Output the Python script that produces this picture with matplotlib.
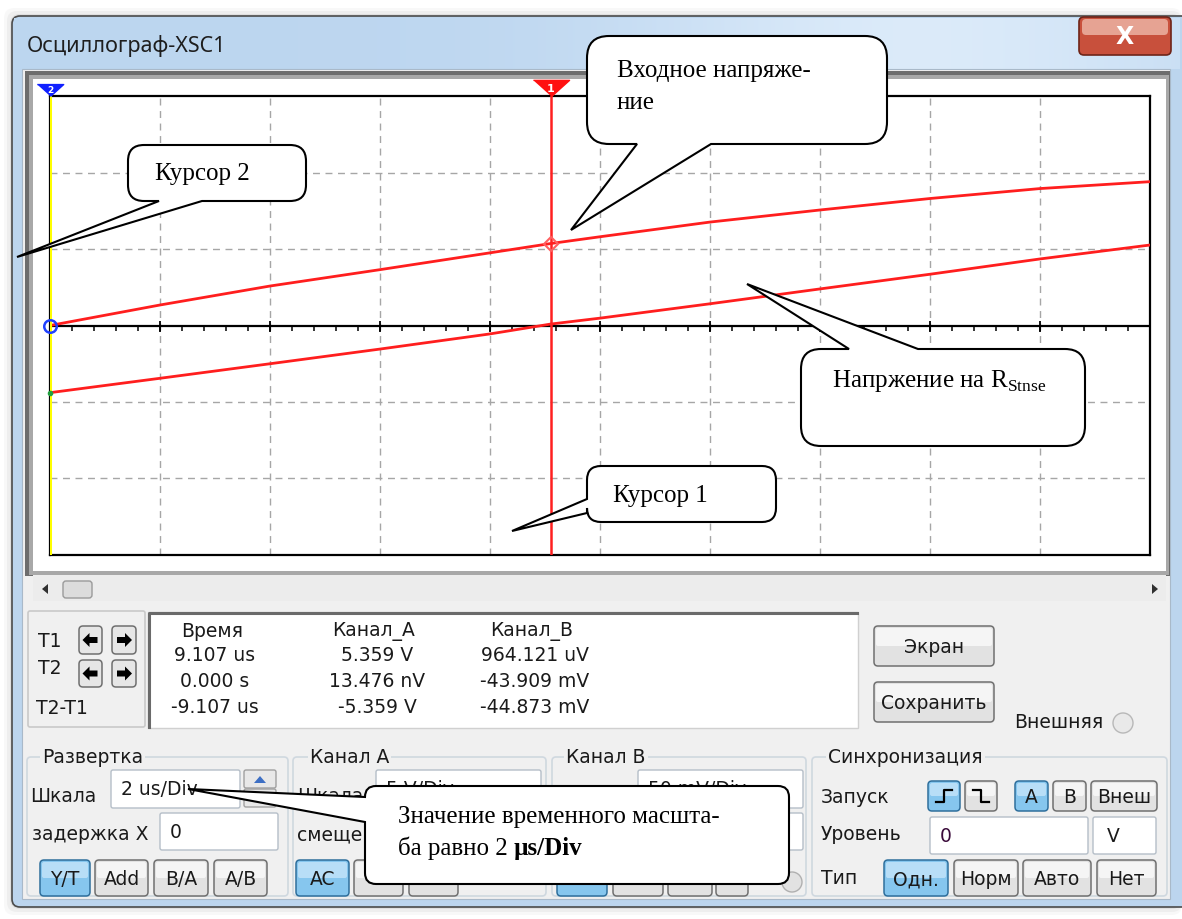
"""Окно осциллографа XSC1 с курсорами и выносками-комментариями."""

import matplotlib
matplotlib.use("Agg")
import matplotlib.pyplot as plt
import matplotlib.transforms as mtransforms
import numpy as np
from matplotlib.patches import Circle, FancyBboxPatch, PathPatch, Polygon, Rectangle
from matplotlib.path import Path

plt.rcParams["font.family"] = ["DejaVu Sans"]
plt.rcParams["mathtext.fontset"] = "custom"
plt.rcParams["mathtext.rm"] = "Liberation Serif"

# --- данные осциллограммы ---
TIME_US = [0.0, 2.0, 4.0, 6.0, 8.0, 9.107, 10.0, 12.0, 14.0, 16.0, 18.0, 20.0]
CH_A_V = [0.0, 1.34, 2.58, 3.65, 4.75, 5.359, 5.80, 6.76, 7.55, 8.30, 8.95, 9.40]
CH_B_MV = [-43.9, -34.5, -25.0, -15.4, -5.5, 0.96, 4.8, 14.2, 23.9, 33.5, 43.5, 52.6]

TIME_DIV_US = 2.0
CH_A_V_DIV = 5.0
CH_B_MV_DIV = 50.0
N_DIV_X = 10
N_DIV_Y = 3

CURSOR_T1_US = 9.107
CURSOR_T2_US = 0.0

READ_HEADERS = ["Время", "Канал_А", "Канал_В"]
READ_ROWS = [
    ["9.107 us", "5.359 V", "964.121 uV"],
    ["0.000 s", "13.476 nV", "-43.909 mV"],
    ["-9.107 us", "-5.359 V", "-44.873 mV"],
]

W, H = 1182, 920
UI = 13.5
SERIF = "Liberation Serif"
PANEL = "#f0f0f0"

fig = plt.figure(figsize=(W / 100, H / 100), dpi=100)
fig.patch.set_facecolor("white")


def pixel_axes(zorder):
    a = fig.add_axes([0, 0, 1, 1], zorder=zorder)
    a.set_xlim(0, W)
    a.set_ylim(H, 0)
    a.axis("off")
    a.patch.set_alpha(0)
    return a


bg = pixel_axes(0)
top = pixel_axes(5)


def rbox(a, x0, y0, x1, y1, r=3, fc="none", ec="none", lw=1.0, z=1):
    a.add_patch(FancyBboxPatch((x0, y0), x1 - x0, y1 - y0,
                               boxstyle=f"round,pad=0,rounding_size={r}",
                               fc=fc, ec=ec, lw=lw, zorder=z))


def label(x, y, s, ha="left", size=UI, color="#1a1a1a", **kw):
    bg.text(x, y, s, ha=ha, va="center", fontsize=size, color=color, zorder=6, **kw)


def button(x0, x1, y0, y1, s, active=False):
    fc = "#86c6ee" if active else "#e2e2e2"
    ec = "#2f6f9c" if active else "#707070"
    hi = "#b8def7" if active else "#f5f5f5"
    rbox(bg, x0, y0, x1, y1, r=4, fc=fc, ec=ec, lw=1.1, z=3)
    rbox(bg, x0 + 2, y0 + 2, x1 - 2, (y0 + y1) / 2, r=2, fc=hi, z=4)
    if s:
        label((x0 + x1) / 2, (y0 + y1) / 2 + 1, s, ha="center")


def textbox(x0, x1, y0, y1, s="", color="#1a1a1a"):
    rbox(bg, x0, y0, x1, y1, r=2, fc="white", ec="#b5bec8", lw=1.0, z=3)
    if s:
        label(x0 + 10, (y0 + y1) / 2, s, color=color)


def group(x0, x1, y0, y1, title, tx):
    rbox(bg, x0, y0, x1, y1, r=4, ec="#cfd8df", lw=1.2, z=2)
    bg.text(tx, y0, title, ha="left", va="center", fontsize=UI, color="#1a1a1a",
            zorder=6, bbox=dict(fc=PANEL, ec="none", pad=1.5))


def arrow_button(x0, x1, y0, y1, direction):
    rbox(bg, x0, y0, x1, y1, r=4, fc="#e6e6e6", ec="#6f6f6f", lw=1.1, z=3)
    cx, cy = (x0 + x1) / 2, (y0 + y1) / 2
    d = -1 if direction == "left" else 1
    pts = [(cx + 8 * d, cy), (cx + 1 * d, cy - 7), (cx + 1 * d, cy - 3), (cx - 7 * d, cy - 3),
           (cx - 7 * d, cy + 3), (cx + 1 * d, cy + 3), (cx + 1 * d, cy + 7)]
    bg.add_patch(Polygon(pts, closed=True, fc="black", ec="none", zorder=4))


# --- окно ---
for i, a in enumerate([0.05, 0.08, 0.12]):
    rbox(bg, 4 + 3 * i, 9 + 3 * i, 1182, 916 - 3 * i, r=10, fc="#808080", ec="none", z=0)
    bg.patches[-1].set_alpha(a)
rbox(bg, 12, 17, 1190, 908, r=8, fc="#bcd5ee", ec="#4b4b4b", lw=1.2, z=1)
grad = np.linspace(0, 1, 256)
title_rgb = np.zeros((1, 256, 3))
title_rgb[0, :, 0] = 0.74 + 0.12 * np.exp(-((grad - 0.78) / 0.25) ** 2)
title_rgb[0, :, 1] = 0.84 + 0.08 * np.exp(-((grad - 0.78) / 0.25) ** 2)
title_rgb[0, :, 2] = 0.94 + 0.04 * np.exp(-((grad - 0.78) / 0.25) ** 2)
bg.imshow(title_rgb, extent=(14, 1180, 70, 19), aspect="auto", zorder=1.5, interpolation="bilinear")
bg.set_xlim(0, W)
bg.set_ylim(H, 0)
bg.text(27, 46, "Осциллограф-XSC1", fontsize=15.5, va="center", ha="left",
        color="#1e1e1e", family=["Noto Sans", "DejaVu Sans"], zorder=6)

# кнопка закрытия
rbox(bg, 1079, 18, 1171, 56, r=5, fc="#c8503c", ec="#6e2418", lw=1.2, z=3)
rbox(bg, 1082, 20, 1168, 36, r=4, fc="#e6a393", z=4)
bg.text(1125, 37, "X", fontsize=17, fontweight="bold", ha="center", va="center",
        color="white", zorder=6)

# панель
bg.add_patch(Rectangle((22, 70), 1148, 830, fc=PANEL, ec="#a9b9c9", lw=0.8, zorder=2))

# экран
bg.add_patch(Rectangle((25, 72), 1145, 505, fc="#6d6d6d", ec="none", zorder=2.1))
bg.add_patch(Rectangle((29, 76), 1140, 500, fc="#a8a8a8", ec="none", zorder=2.2))
bg.add_patch(Rectangle((33, 80), 1133, 492, fc="white", ec="none", zorder=2.3))

# полоса прокрутки
bg.add_patch(Rectangle((33, 576), 1133, 26, fc="#ececec", ec="none", zorder=2.3))
bg.add_patch(Polygon([(42, 590), (48, 585), (48, 595)], fc="#303030", zorder=4))
rbox(bg, 63, 582, 92, 599, r=3, fc="#dcdcdc", ec="#9a9a9a", lw=1, z=4)
bg.add_patch(Polygon([(1158, 590), (1152, 585), (1152, 595)], fc="#303030", zorder=4))

# --- осциллограмма ---
ax = fig.add_axes([50 / W, 1 - 556 / H, 1100 / W, 459 / H], zorder=2)
t = np.asarray(TIME_US)
a_div = np.asarray(CH_A_V) / CH_A_V_DIV
b_div = np.asarray(CH_B_MV) / CH_B_MV_DIV
ax.set_xlim(0, N_DIV_X * TIME_DIV_US)
ax.set_ylim(-N_DIV_Y, N_DIV_Y)
ax.set_xticks([])
ax.set_yticks([])
for side in ["top", "bottom", "right", "left"]:
    ax.spines[side].set_color("black")
    ax.spines[side].set_linewidth(1.6)

grid_kw = dict(color="#a6a6a6", lw=1.0, ls=(0, (5, 4)), zorder=1)
for k in range(1, N_DIV_X):
    ax.axvline(k * TIME_DIV_US, **grid_kw)
for k in range(-N_DIV_Y + 1, N_DIV_Y):
    if k != 0:
        ax.axhline(k, **grid_kw)
ax.axhline(0, color="black", lw=1.6, zorder=2)
minor = np.arange(0, N_DIV_X * TIME_DIV_US + 1e-9, TIME_DIV_US / 5)
ax.vlines(minor, -0.07, 0, color="black", lw=1.1, zorder=2)
ax.vlines(np.arange(0, N_DIV_X * TIME_DIV_US + 1e-9, TIME_DIV_US), -0.09, 0.06,
          color="black", lw=1.3, zorder=2)

ax.plot(t, a_div, color="#ff1e1e", lw=2.0, zorder=4)
ax.plot(t, b_div, color="#ff1e1e", lw=2.0, zorder=4)

ax.axvline(CURSOR_T2_US, color="#ffff00", lw=2.2, zorder=5)
ax.axvline(CURSOR_T1_US, color="#ff2020", lw=1.8, zorder=5)

i1 = TIME_US.index(CURSOR_T1_US)
ax.plot(CURSOR_T1_US, a_div[i1], marker="D", ms=7, mfc="none", mec="#ff6060", mew=1.5,
        zorder=6, clip_on=False)
ax.plot(CURSOR_T2_US, a_div[0], marker="o", ms=9, mfc="none", mec="#2040ff", mew=1.8,
        zorder=6, clip_on=False)
ax.plot(CURSOR_T2_US, b_div[0], marker="o", ms=3, color="#20a040", zorder=6, clip_on=False)

blend = mtransforms.blended_transform_factory(ax.transData, ax.transAxes)
flag = [(-1, 0.45), (1, 0.45), (0, -0.45)]
off1 = blend + mtransforms.ScaledTranslation(0, 6 / 72, fig.dpi_scale_trans)
off2 = blend + mtransforms.ScaledTranslation(0, 4.5 / 72, fig.dpi_scale_trans)
ax.plot(CURSOR_T1_US, 1, marker=flag, ms=26, color="#ff1010", transform=off1, clip_on=False, zorder=7)
ax.text(CURSOR_T1_US, 1, "1", transform=off1, fontsize=8, fontweight="bold", color="white",
        ha="center", va="center", zorder=8)
ax.plot(CURSOR_T2_US, 1, marker=flag, ms=19, color="#1020ff", transform=off2, clip_on=False, zorder=7)
ax.text(CURSOR_T2_US, 1, "2", transform=off2, fontsize=6.5, fontweight="bold", color="white",
        ha="center", va="center", zorder=8)

# --- таблица отсчётов ---
rbox(bg, 28, 612, 145, 728, r=2, ec="#c9c9c9", lw=1.2, z=3)
label(38, 642, "T1")
label(38, 669, "T2")
label(36, 709, "T2-T1")
arrow_button(79, 102, 627, 655, "left")
arrow_button(112, 136, 627, 655, "right")
arrow_button(79, 102, 661, 688, "left")
arrow_button(112, 136, 661, 688, "right")

bg.add_patch(Rectangle((148, 613), 710, 116, fc="white", ec="#d0d0d0", lw=1, zorder=3))
bg.plot([149, 149, 857], [728, 614, 614], color="#6a6a6a", lw=2.2, zorder=4)
col_x = [215, 377, 535]
for cx, head in zip(col_x, READ_HEADERS):
    label(cx - 3, 632, head, ha="center")
for r, row in enumerate(READ_ROWS):
    for cx, val in zip(col_x, row):
        label(cx, 656 + r * 26, val, ha="center")

button(874, 994, 627, 667, "Экран")
button(874, 994, 683, 723, "Сохранить")
label(1014, 723, "Внешняя")
bg.add_patch(Circle((1123, 724), 10, fc="#e9e9e9", ec="#b8b8b8", lw=1, zorder=4))

# --- нижние группы ---
group(27, 288, 758, 897, "Развертка", 42)
label(30, 797, "Шкала")
textbox(111, 240, 771, 809, "2 us/Div")
rbox(bg, 244, 771, 276, 789, r=2, fc="#e8e8e8", ec="#a0a0a0", lw=1, z=3)
bg.add_patch(Polygon([(254, 784), (266, 784), (260, 777)], fc="#3d6fc4", zorder=4))
rbox(bg, 244, 790, 276, 808, r=2, fc="#e8e8e8", ec="#a0a0a0", lw=1, z=3)
label(32, 835, "задержка X")
textbox(160, 278, 814, 851, "0")
button(40, 90, 861, 897, "Y/T", active=True)
button(95, 148, 861, 897, "Add")
button(154, 208, 861, 897, "B/A")
button(214, 267, 861, 897, "A/B")

# поля каналов, частично закрытые выноской
group(293, 546, 758, 897, "Канал А", 310)
label(297, 797, "Шкала")
textbox(376, 541, 771, 809, "5 V/Div")
label(297, 835, "смещен")
textbox(376, 541, 814, 851)
button(296, 349, 861, 897, "AC", active=True)
button(354, 403, 861, 897, "0")
button(409, 458, 861, 897, "DC")

group(552, 806, 758, 897, "Канал В", 566)
textbox(638, 803, 771, 809, "50 mV/Div")
textbox(638, 803, 814, 851)
button(557, 607, 861, 897, "AC", active=True)
button(613, 663, 861, 897, "0")
button(668, 712, 861, 897, "DC")
button(716, 748, 861, 897, "-")
bg.add_patch(Circle((792, 883), 10, fc="#e2e2e2", ec="#b0b0b0", lw=1, zorder=4))

group(812, 1167, 758, 897, "Синхронизация", 828)
label(821, 798, "Запуск")
button(928, 960, 782, 812, "", active=True)
bg.plot([936, 944, 944, 952], [803, 803, 791, 791], color="black", lw=1.6, zorder=6)
button(965, 997, 782, 812, "")
bg.plot([973, 981, 981, 989], [791, 791, 803, 803], color="black", lw=1.6, zorder=6)
button(1015, 1048, 782, 812, "A", active=True)
button(1053, 1086, 782, 812, "B")
button(1091, 1157, 782, 812, "Внеш")
label(821, 835, "Уровень")
textbox(930, 1088, 818, 855, "0", color="#3a0a3a")
textbox(1093, 1156, 818, 855)
label(1113, 837, "V", ha="center")
label(821, 879, "Тип")
button(884, 948, 861, 897, "Одн.", active=True)
button(954, 1018, 861, 897, "Норм")
button(1023, 1091, 861, 897, "Авто")
button(1097, 1156, 861, 897, "Нет")


# --- выноски ---
def callout(x0, y0, x1, y1, side, ba, bb, tip, r=16):
    v = [(x0 + r, y0)]
    c = [Path.MOVETO]

    def line(p):
        v.append(p)
        c.append(Path.LINETO)

    def corner(ctrl, p):
        v.extend([ctrl, p])
        c.extend([Path.CURVE3, Path.CURVE3])

    if side == "top":
        line(ba); line(tip); line(bb)
    line((x1 - r, y0)); corner((x1, y0), (x1, y0 + r))
    if side == "right":
        line(ba); line(tip); line(bb)
    line((x1, y1 - r)); corner((x1, y1), (x1 - r, y1))
    if side == "bottom":
        line(bb); line(tip); line(ba)
    line((x0 + r, y1)); corner((x0, y1), (x0, y1 - r))
    if side == "left":
        line(bb); line(tip); line(ba)
    line((x0, y0 + r)); corner((x0, y0), (x0 + r, y0))
    v.append((0, 0))
    c.append(Path.CLOSEPOLY)
    top.add_patch(PathPatch(Path(v, c), fc="white", ec="black", lw=1.5, zorder=3))


def note(x, y, s, **kw):
    return top.text(x, y, s, fontsize=18, family=SERIF, ha="left", va="center",
                    color="black", zorder=4, **kw)


callout(128, 146, 306, 202, "bottom", (159, 202), (202, 202), (17, 258), r=16)
note(155, 174, "Курсор 2")

callout(587, 37, 887, 145, "bottom", (637, 145), (711, 145), (571, 231), r=22)
note(617, 71, "Входное напряже-")
note(617, 103, "ние")

callout(801, 350, 1085, 447, "top", (849, 350), (918, 350), (747, 285), r=20)
note(832, 381, "Напржение на R$_{\\mathrm{Stnse}}$")

callout(587, 467, 776, 523, "left", (587, 500), (587, 514), (512, 532), r=14)
note(613, 496, "Курсор 1")

callout(365, 787, 789, 885, "left", (365, 798), (365, 823), (188, 790), r=11)
note(398, 817, "Значение временного масшта-")
first = note(398, 848, "ба равно 2 ")
top.annotate("µs/Div", xy=(1, 0), xycoords=first, fontsize=18, family=SERIF,
             fontweight="bold", ha="left", va="bottom", zorder=4)

fig.savefig("out.png", dpi=100)
